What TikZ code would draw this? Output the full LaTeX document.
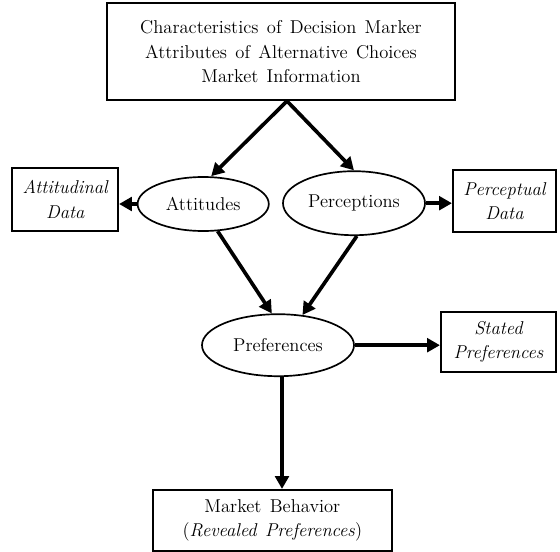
\documentclass[tikz,border=0pt]{standalone}
\usetikzlibrary{arrows.meta,shapes.geometric}
\newcommand\diagfont{\fontsize{13.2}{17.5}\selectfont\spaceskip=0.45em plus 0.1em\relax}
\begin{document}
\begin{tikzpicture}[
  font=\diagfont,
  box/.style={draw,line width=1.2pt,inner sep=0pt,align=center},
  oval/.style={draw,ellipse,line width=1.2pt,inner sep=0pt,align=center},
  flow/.style={line width=2.6pt,-{Triangle[length=3.2mm,width=3.4mm]}}
]
\useasboundingbox (0,0) rectangle (14,-13.8);

\coordinate (T) at (7.025,-1.29);
\node[box,minimum width=8.7cm,minimum height=2.43cm] (top) at (T)
  {Characteristics of Decision Marker\\Attributes of Alternative Choices\\Market Information};

\coordinate (A) at (5.08,-5.1);
\node[oval,minimum width=3.28cm,minimum height=1.35cm] (att) at (A) {Attitudes};
\coordinate (P) at (8.85,-5.08);
\node[oval,minimum width=3.55cm,minimum height=1.6cm] (per) at (P) {Perceptions};

\coordinate (AD) at (1.63,-4.99);
\node[box,minimum width=2.65cm,minimum height=1.58cm] (adata) at (AD)
  {\itshape Attitudinal\\\itshape Data};
\coordinate (PD) at (12.61,-5.03);
\node[box,minimum width=2.58cm,minimum height=1.55cm] (pdata) at (PD)
  {\itshape Perceptual\\\itshape Data};

\coordinate (R) at (6.95,-8.63);
\node[oval,minimum width=3.8cm,minimum height=1.55cm] (pref) at (R) {Preferences};
\coordinate (S) at (12.46,-8.55);
\node[box,minimum width=2.88cm,minimum height=1.5cm] (stated) at (S)
  {\itshape Stated\\\itshape Preferences};

\coordinate (M) at (6.81,-13.01);
\node[box,minimum width=5.98cm,minimum height=1.53cm] (mb) at (M)
  {Market Behavior\\(\textit{Revealed Preferences})};

\coordinate (apex) at ([xshift=0.15cm]top.south);
\draw[flow] (apex) -- ([xshift=0.2cm]att.north);
\draw[flow] (apex) -- (per.north);
\draw[flow] (att.west) -- (att.west -| adata.east);
\draw[flow] (per.east) -- (per.east -| pdata.west);
\draw[flow] (att.-62) -- (pref.101);
\draw[flow] (per.-85) -- (pref.51);
\draw[flow] (pref.east) -- (pref.east -| stated.west);
\draw[flow] ([xshift=0.1cm]pref.south) -- ([xshift=0.1cm]pref.south |- mb.north);
\end{tikzpicture}
\end{document}
